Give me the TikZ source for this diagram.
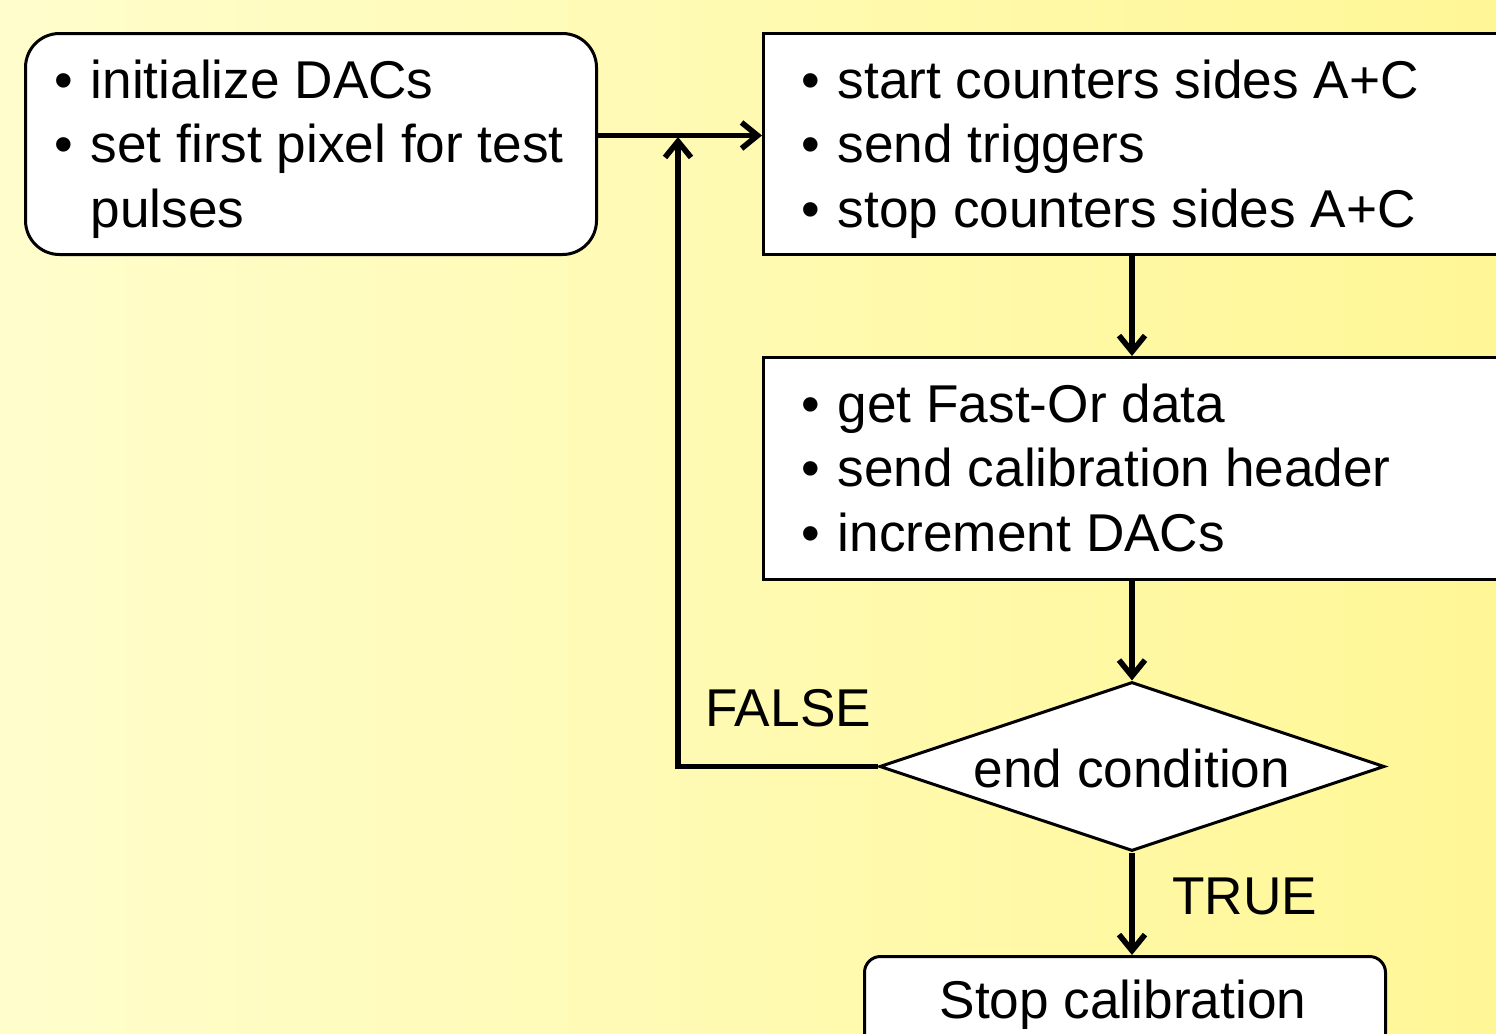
\documentclass[tikz,border=0pt]{standalone}
\usepackage{fontspec}
\setmainfont{Liberation Sans}
\usetikzlibrary{arrows.meta,shapes.geometric,calc}
\definecolor{bgL}{RGB}{255,253,204}
\definecolor{bgR}{RGB}{255,247,150}
\begin{document}
\begin{tikzpicture}[x=0.5pt,y=-0.5pt,
  box/.style={draw,line width=1.5pt,fill=white,inner sep=0,anchor=north west},
  txt/.style={font=\fontsize{26.6}{32.25}\selectfont,inner sep=0},
  arr/.style={line width=2.8pt,-{Straight Barb[length=8pt,width=13pt]}}]
\useasboundingbox (0,0) rectangle (1496,1034);
\shade[left color=bgL,right color=bgR] (0,0) rectangle (1496,1034);
\clip (0,0) rectangle (1496,1034);
% boxes
\node[box,rounded corners=17pt,minimum width=285.5pt,minimum height=110.5pt] (b1) at (24,32) {};
\node[box,minimum width=379pt,minimum height=110.5pt] (b2) at (762,32) {};
\node[box,minimum width=379pt,minimum height=111pt] (b3) at (762,356) {};
\node[box,rounded corners=8pt,minimum width=260.5pt,minimum height=50pt] (b4) at (863,955) {};
\node[draw,diamond,line width=1.5pt,fill=white,minimum width=252.5pt,minimum height=84.5pt,inner sep=0] (dia) at (1132,766.5) {};
% texts
\node[txt,anchor=base west] (t1) at (53.7,98) {\begin{tabular}[t]{@{}c@{\hspace{9pt}}l@{}}\textbullet & initialize DACs\\ \textbullet & set first pixel for test\\ & pulses\end{tabular}};
\node[txt,anchor=base west] (t2) at (800.7,98) {\begin{tabular}[t]{@{}c@{\hspace{9pt}}l@{}}\textbullet & start counters sides A+C\\ \textbullet & send triggers\\ \textbullet & stop counters sides A+C\end{tabular}};
\node[txt,anchor=base west] (t3) at (800.7,422) {\begin{tabular}[t]{@{}c@{\hspace{9pt}}l@{}}\textbullet & get Fast-Or data\\ \textbullet & send calibration header\\ \textbullet & increment DACs\end{tabular}};
\node[txt,anchor=base] (t4) at (1132,787) {end condition};
\node[txt,anchor=base] (t5) at (1123,1018) {Stop calibration};
\node[txt,anchor=base west] (lf) at (705,726) {FALSE};
\node[txt,anchor=base west] (lt) at (1172,914) {TRUE};
% connectors
\coordinate (a1) at ([yshift=4.25pt]b1.east);
\coordinate (j) at (678,137);
\draw[arr] (a1) -- (a1 -| b2.west);
\draw[arr] (dia.west) -| (j);
\draw[arr] (dia.north |- b2.south) -- (dia.north |- b3.north);
\draw[arr] (dia.north |- b3.south) -- (dia.north);
\draw[arr] (dia.south) -- (dia.south |- b4.north);
\end{tikzpicture}
\end{document}
